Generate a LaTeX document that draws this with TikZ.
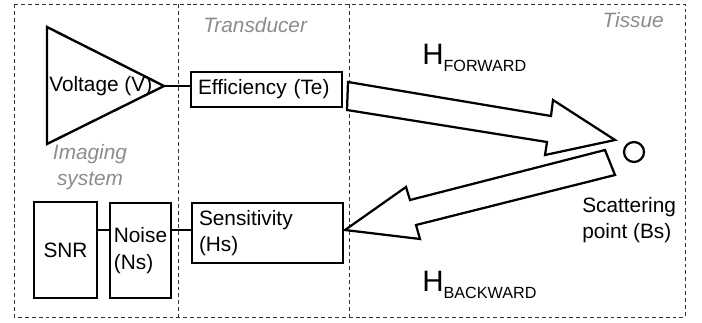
\documentclass[tikz,border=0pt]{standalone}
\usepackage{fontspec}
\setmainfont{Liberation Sans}

\begin{document}
\begin{tikzpicture}[x=0.025cm,y=-0.025cm, % 1 unit = 0.025 cm, y vers le bas
  every node/.style={font=\fontsize{14.8}{19}\selectfont},
  box/.style={draw, line width=1.7pt, inner sep=0pt, outer sep=0pt},
  textbox/.style={align=left, text width=137*\pu, inner xsep=7*\pu},
  zone/.style={draw=black!80, line width=0.7pt, dash pattern=on 2.8pt off 2.1pt},
  zonelabel/.style={text=black!45, font=\fontsize{14.8}{19}\selectfont\itshape},
  flow/.style={draw, line width=1.6pt, fill=white}
]

% --------- PARAMETRES ----------
\def\pu{0.025cm}  % une unite
\def\xl{14}       % bord gauche
\def\xr{685}      % bord droit
\def\yt{4}        % bord haut
\def\yb{317}      % bord bas
\def\xa{178}      % separation imagerie / transducteur
\def\xb{349}      % separation transducteur / tissu
% --------------------------------

\useasboundingbox (0,0) rectangle (702,322);

% Zones en pointille
\draw[zone] (\xl,\yt) rectangle (\xr,\yb);
\draw[zone] (\xa,\yt) -- (\xa,\yb);
\draw[zone] (\xb,\yt) -- (\xb,\yb);

% Systeme d'imagerie
\coordinate (vtip) at (164,86);
\draw[box] (47,27) -- (47,144) -- (vtip) -- cycle;
\node[anchor=west, inner sep=0pt] (volt) at (49,86) {Voltage (V)};
\node[zonelabel, align=center] (imglbl) at (90,167) {Imaging\\system};
\node[box, minimum width=63*\pu, minimum height=96*\pu] (snr) at (65.5,250) {SNR};
\node[box, align=left, minimum width=61*\pu, minimum height=95*\pu] (noise) at (140.5,250.5) {Noise\\(Ns)};

% Transducteur
\node[zonelabel, anchor=base west, inner sep=0pt] (tdlbl) at (203,32) {Transducer};
\node[box, textbox, minimum width=151*\pu, minimum height=35*\pu] (eff) at (266.5,89.5) {Efficiency (Te)};
\node[box, textbox, minimum width=151*\pu, minimum height=60*\pu] (sens) at (267.5,233) {Sensitivity\\(Hs)};

% Liaisons
\coordinate (lnk) at (0,230);
\draw[box] (vtip) -- (vtip -| eff.west);
\draw[box] (snr.east |- lnk) -- (noise.west |- lnk);
\draw[box] (noise.east |- lnk) -- (sens.west |- lnk);

% Tissu
\node[zonelabel, anchor=base east, inner sep=0pt] (tislbl) at (664,27) {Tissue};
\node[draw, circle, line width=1.6pt, minimum size=20*\pu, inner sep=0pt] (scat) at (634,152) {};
\node[anchor=west, align=left, inner sep=0pt] (scatlbl) at (582,220) {Scattering\\point (Bs)};

% Fleches aller / retour
\draw[flow] (348,82) -- (551,116) -- (553,100) -- (615,140) -- (545,155) -- (547,142) -- (347,110) -- cycle;
\draw[flow] (605,150) -- (615,175) -- (416,225) -- (420,239) -- (345,230) -- (406,187) -- (410,200) -- cycle;

\node[anchor=base west, inner sep=0pt] (hfwd) at (422,64)
  {\fontsize{21}{21}\selectfont H\raisebox{-5pt}{\fontsize{11.5}{11.5}\selectfont FORWARD}};
\node[anchor=base west, inner sep=0pt] (hbwd) at (422,291)
  {\fontsize{21}{21}\selectfont H\raisebox{-5pt}{\fontsize{11.5}{11.5}\selectfont BACKWARD}};

\end{tikzpicture}
\end{document}
